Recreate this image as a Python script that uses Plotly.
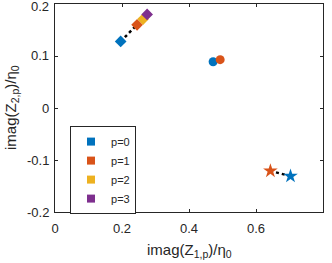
import plotly.graph_objects as go

p_labels = ["p=0", "p=1", "p=2", "p=3"]
colors = ["#0072BD", "#D95319", "#EDB120", "#7E2F8E"]

diamond_x = [0.196, 0.245, 0.263, 0.275]
diamond_y = [0.128, 0.160, 0.171, 0.180]
circle_x = [0.472, 0.493]
circle_y = [0.089, 0.093]
star_x = [0.703, 0.643]
star_y = [-0.131, -0.121]

x_ticks = [0, 0.2, 0.4, 0.6, 0.8]
x_tick_labels = ["0", "0.2", "0.4", "0.6", "0.8"]
y_ticks = [-0.2, -0.1, 0, 0.1, 0.2]
y_tick_labels = ["-0.2", "-0.1", "0", "0.1", "0.2"]
x_range = [0, 0.8]
y_range = [-0.2, 0.2]
x_title = "imag(Z<sub>1,p</sub>)/η<sub>0</sub>"
y_title = "imag(Z<sub>2,p</sub>)/η<sub>0</sub>"

fig = go.Figure()

groups = [(diamond_x, diamond_y, "diamond", 9), (circle_x, circle_y, "circle", 9), (star_x, star_y, "star", 11)]
for gx, gy, sym, sz in groups:
    fig.add_trace(go.Scatter(x=gx, y=gy, mode="lines", line=dict(color="black", dash="dot", width=2.5),
                             showlegend=False, hoverinfo="skip"))
    for i in range(len(gx)):
        fig.add_trace(go.Scatter(x=[gx[i]], y=[gy[i]], mode="markers",
                                 marker=dict(symbol=sym, size=sz, color=colors[i], line=dict(width=0)),
                                 showlegend=False))

for i, lab in enumerate(p_labels):
    fig.add_trace(go.Scatter(x=[None], y=[None], mode="markers", name=lab,
                             marker=dict(symbol="square", size=8, color=colors[i])))

font = "Liberation Sans, Arial, sans-serif"
txt = "#262626"
axis_common = dict(showgrid=False, zeroline=False, showline=True, linecolor=txt, linewidth=1,
                   mirror="ticks", ticks="inside", ticklen=3, tickcolor=txt, automargin=False,
                   tickfont=dict(family=font, size=13, color=txt))

# axis titles as annotations
fig.add_annotation(x=0.5, xref="paper", y=0, yref="paper", text=x_title, showarrow=False,
                   xanchor="center", yanchor="middle", yshift=-38, bgcolor="rgba(0,0,0,0)",
                   font=dict(family=font, size=15, color=txt))
fig.add_annotation(x=0, xref="paper", y=0.5, yref="paper", text=y_title, showarrow=False,
                   textangle=-90, xanchor="center", yanchor="middle", xshift=-44, bgcolor="rgba(0,0,0,0)",
                   font=dict(family=font, size=15, color=txt))

# y tick labels as annotations, drawn after the titles
for v, t in zip(y_ticks, y_tick_labels):
    fig.add_annotation(x=0, xref="paper", y=(v - y_range[0]) / (y_range[1] - y_range[0]), yref="paper",
                       text=t, showarrow=False,
                       xanchor="right", yanchor="middle", xshift=-4, yshift=-2 if v == y_range[1] else 0,
                       font=dict(family=font, size=13, color=txt))

fig.update_layout(
    width=332, height=263,
    margin=dict(l=55, r=9, t=4, b=51, autoexpand=False),
    paper_bgcolor="white", plot_bgcolor="white",
    xaxis=dict(range=x_range, tickmode="array", tickvals=x_ticks, ticktext=x_tick_labels,
               ticklabelstandoff=4, **axis_common),
    yaxis=dict(range=y_range, tickmode="array", tickvals=y_ticks, showticklabels=False,
               **axis_common),
    legend=dict(x=0.056, y=0.413, xanchor="left", yanchor="top", bordercolor=txt, borderwidth=1,
                bgcolor="white", font=dict(family=font, size=11, color=txt), tracegroupgap=0,
                itemwidth=30),
    showlegend=True,
)

fig.write_html("out.html", config={"displayModeBar": False},
               post_script="document.body.style.margin='0';document.body.style.overflow='hidden';")
